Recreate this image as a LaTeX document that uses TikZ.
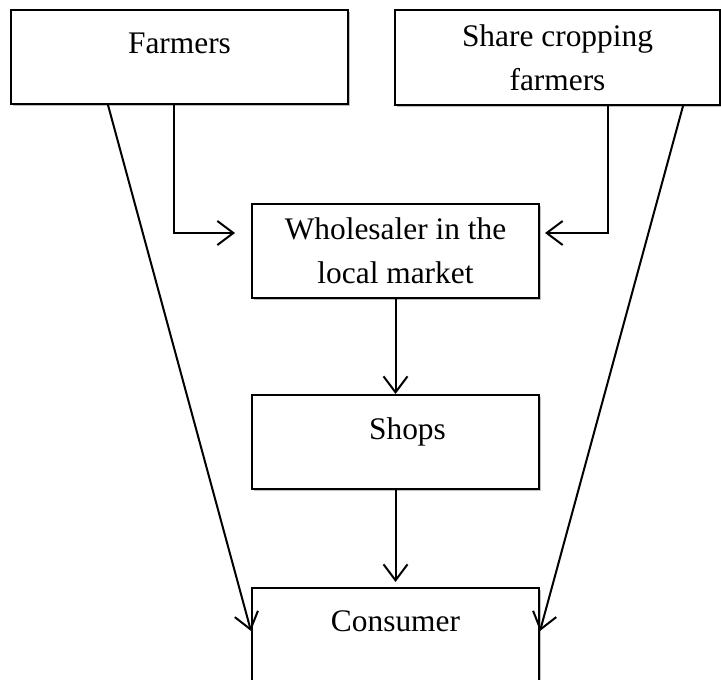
\documentclass[tikz,border=0pt]{standalone}
\usepackage{fontspec}
\setmainfont{Liberation Serif}
\usetikzlibrary{arrows.meta,shadows}

\tikzset{
  box/.style={draw, line width=1pt, fill=white, inner sep=0pt,
    minimum width=143.5pt, minimum height=47pt, align=center,
    font=\fontsize{15.7}{22}\selectfont,
    drop shadow={shadow xshift=0.8pt, shadow yshift=-1.2pt, fill=black!25, opacity=1}},
  topbox/.style={box, text height=22pt, text depth=25pt},
  link/.style={->, line width=1pt},
  >={Straight Barb[length=8pt, width=12pt]}
}

\begin{document}
\begin{tikzpicture}[x=0.5pt, y=-0.5pt]
  \useasboundingbox (0,0) rectangle (721,679);

  % top row
  \node[topbox, anchor=north west, minimum width=168.5pt] (farmers) at (10,9) {Farmers};
  \node[box, anchor=north west, minimum width=162.5pt, minimum height=47.5pt] (share) at (394,9) {Share cropping\\farmers};

  % middle column
  \node[box, anchor=north west] (wholesaler) at (251,203) {Wholesaler in the\\local market};
  \node[topbox, anchor=north west] (shops) at (251,394) {\hspace*{12pt}Shops};
  \node[box, anchor=north west, text height=21.5pt, text depth=30pt] (consumer) at (251,587) {Consumer};

  % links
  \draw[link, shorten >=8pt] ([xshift=-3pt]farmers.south) |- ([yshift=9pt]wholesaler.west);
  \draw[link, shorten >=2.5pt] ([xshift=25.25pt]share.south) |- ([yshift=9pt]wholesaler.east);
  \draw[link] (wholesaler) -- (shops);
  \draw[link, shorten >=2.5pt] (shops) -- (consumer);
  \draw[link] ([xshift=-35.75pt]farmers.south) -- ([yshift=4.25pt]consumer.west);
  \draw[link] ([xshift=62.75pt]share.south) -- ([yshift=4.25pt]consumer.east);
\end{tikzpicture}
\end{document}
